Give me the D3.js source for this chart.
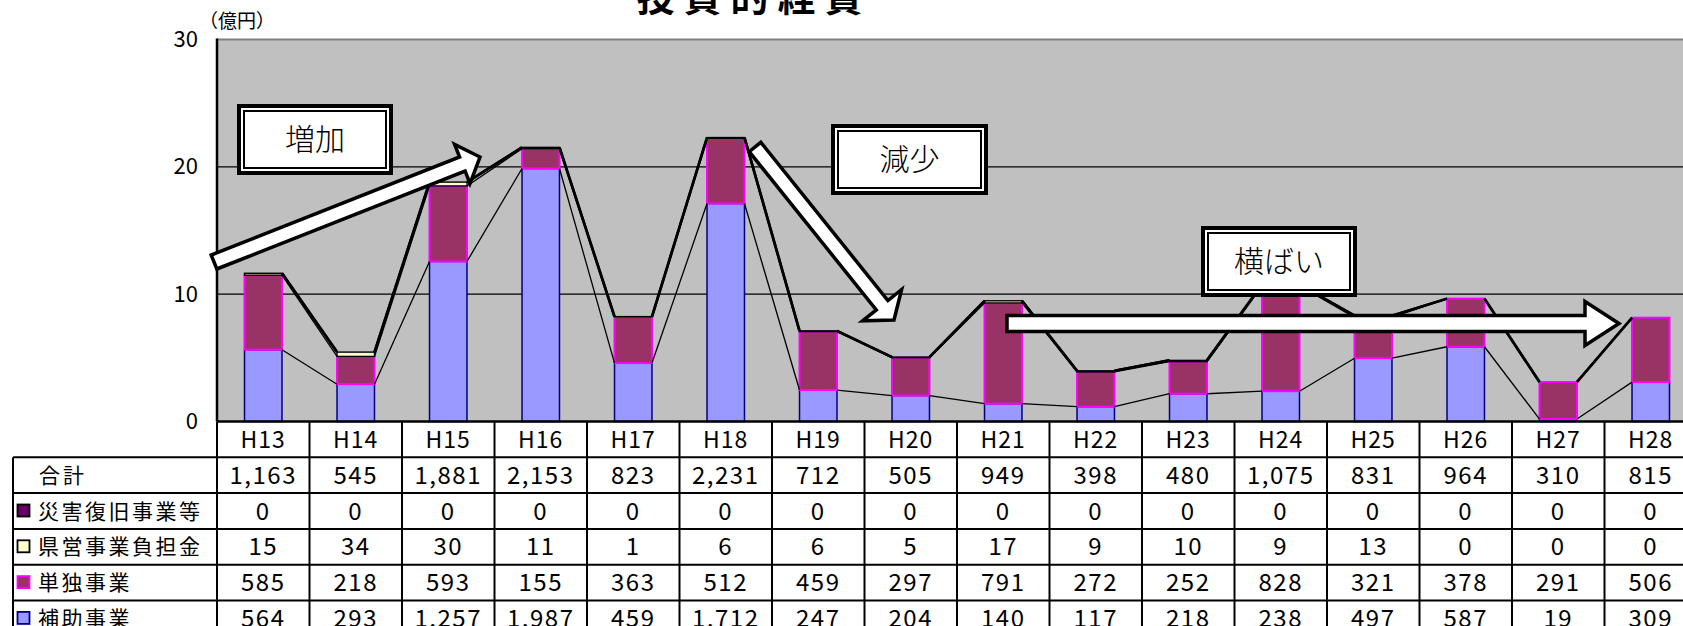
<!DOCTYPE html>
<html>
<head>
<meta charset="utf-8">
<script src="https://cdn.jsdelivr.net/npm/d3@7"></script>
<style>
  html, body { margin: 0; padding: 0; background: #fff; overflow: hidden; }
  svg { display: block; }
  text { font-family: "Noto Sans CJK JP", "Noto Sans", sans-serif; }
</style>
</head>
<body>
<svg id="chart" width="1683" height="626"></svg>
<script>
// ---------------- data (百万円) ----------------
const categories = ["H13","H14","H15","H16","H17","H18","H19","H20","H21","H22","H23","H24","H25","H26","H27","H28"];
const totalValues   = [1163, 545, 1881, 2153, 823, 2231, 712, 505, 949, 398, 480, 1075, 831, 964, 310, 815];
const saigaiValues  = [0, 0, 0, 0, 0, 0, 0, 0, 0, 0, 0, 0, 0, 0, 0, 0];
const keneiValues   = [15, 34, 30, 11, 1, 6, 6, 5, 17, 9, 10, 9, 13, 0, 0, 0];
const tandokuValues = [585, 218, 593, 155, 363, 512, 459, 297, 791, 272, 252, 828, 321, 378, 291, 506];
const hojoValues    = [564, 293, 1257, 1987, 459, 1712, 247, 204, 140, 117, 218, 238, 497, 587, 19, 309];
const yTickValues = [0, 10, 20, 30];
const yUnitLabel = "（億円）";
const titleText = "投資的経費";
const seriesNames = ["補助事業", "単独事業", "県営事業負担金", "災害復旧事業等"];
const tableRowNames = ["合計", "災害復旧事業等", "県営事業負担金", "単独事業", "補助事業"];
const annotationTexts = ["増加", "減少", "横ばい"];

// ---------------- layout ----------------
const svg = d3.select("#chart");
const plotLeft = 217, step = 92.5;
const plotRight = plotLeft + step * categories.length;
const plotTop = 39.5, plotBottom = 421.5;
const rowH = 35.8;
const tableLeft = 13;

const x = d3.scaleBand().domain(categories).range([plotLeft, plotRight]).padding(0);
const y = d3.scaleLinear().domain([0, 30]).range([plotBottom, plotTop]);
const barW = x.bandwidth() * 0.405;

const styles = {
  "補助事業":      { fill: "#9999FF", stroke: "#000080", sw: 1.5 },
  "単独事業":      { fill: "#993366", stroke: "#FF00FF", sw: 2 },
  "県営事業負担金": { fill: "#FFFFCC", stroke: "#000000", sw: 1.4 },
  "災害復旧事業等": { fill: "#660066", stroke: "#000000", sw: 1.4 }
};

// build rows (億円)
const rows = categories.map((c, i) => ({
  cat: c,
  "補助事業": hojoValues[i] / 100,
  "単独事業": tandokuValues[i] / 100,
  "県営事業負担金": keneiValues[i] / 100,
  "災害復旧事業等": saigaiValues[i] / 100
}));
const stacked = d3.stack().keys(seriesNames)(rows);

// plot background
svg.append("rect").attr("x", plotLeft).attr("y", plotTop)
  .attr("width", plotRight - plotLeft).attr("height", plotBottom - plotTop)
  .attr("fill", "#C0C0C0");

// gridlines
svg.append("g").selectAll("line").data(yTickValues.filter(v => v > 0 && v < 30)).join("line")
  .attr("x1", plotLeft).attr("x2", plotRight)
  .attr("y1", d => y(d)).attr("y2", d => y(d))
  .attr("stroke", "#000").attr("stroke-width", 1.2);

// top border
svg.append("line").attr("x1", plotLeft).attr("x2", plotRight)
  .attr("y1", plotTop).attr("y2", plotTop).attr("stroke", "#808080").attr("stroke-width", 2);

// bars
stacked.forEach(layer => {
  const st = styles[layer.key];
  svg.append("g").selectAll("rect").data(layer).join("rect")
    .attr("x", d => x(d.data.cat) + x.bandwidth() / 2 - barW / 2)
    .attr("y", d => y(d[1]))
    .attr("width", barW)
    .attr("height", d => Math.max(0, y(d[0]) - y(d[1])))
    .attr("fill", st.fill)
    .attr("stroke", st.stroke)
    .attr("stroke-width", st.sw);
});

// series lines
stacked.forEach((layer, li) => {
  const isTop = li >= 2;
  const segs = d3.pairs(layer);
  svg.append("g").selectAll("line").data(segs).join("line")
    .attr("x1", d => x(d[0].data.cat) + x.bandwidth() / 2 + barW / 2)
    .attr("y1", d => y(d[0][1]))
    .attr("x2", d => x(d[1].data.cat) + x.bandwidth() / 2 - barW / 2)
    .attr("y2", d => y(d[1][1]))
    .attr("stroke", "#000")
    .attr("stroke-width", isTop ? 2.6 : 1.3);
});

// left axis line
svg.append("line").attr("x1", plotLeft).attr("x2", plotLeft)
  .attr("y1", plotTop - 1).attr("y2", plotBottom).attr("stroke", "#000").attr("stroke-width", 2.5);

// y tick labels
const yAxis = d3.axisLeft(y).tickValues(yTickValues).tickSize(0).tickPadding(19);
const gy = svg.append("g").attr("transform", `translate(${plotLeft},0)`).call(yAxis);
gy.select(".domain").remove();
gy.selectAll("text").attr("font-size", 22).attr("fill", "#000")
  .style("font-family", '"Noto Sans CJK JP", sans-serif');

svg.append("text").attr("x", 199).attr("y", 28).attr("font-size", 19)
  .text(yUnitLabel);

// title
svg.append("text").attr("x", 754).attr("y", 11).attr("text-anchor", "middle")
  .attr("font-size", 38).attr("font-weight", "bold").attr("letter-spacing", 9)
  .text(titleText);

// ---------------- data table ----------------
const tbl = svg.append("g");
const nRows = tableRowNames.length;
const tableBottom = plotBottom + rowH * (nRows + 1);
// header labels
tbl.selectAll("text.cat").data(categories).join("text").attr("class", "cat")
  .attr("x", d => x(d) + x.bandwidth() / 2)
  .attr("y", plotBottom + rowH / 2)
  .attr("dy", "0.36em")
  .attr("text-anchor", "middle").attr("font-size", 23).attr("letter-spacing", 1)
  .text(d => d);

const tableData = [totalValues, saigaiValues, keneiValues, tandokuValues, hojoValues];
const fmt = d3.format(",");
tableData.forEach((vals, r) => {
  const cy = plotBottom + rowH * (r + 1) + rowH / 2;
  tbl.append("g").selectAll("text").data(vals).join("text")
    .attr("x", (d, i) => x(categories[i]) + x.bandwidth() / 2)
    .attr("y", cy).attr("dy", "0.36em")
    .attr("text-anchor", "middle").attr("font-size", 24).attr("letter-spacing", 1.5)
    .text(d => fmt(d));
  const name = tableRowNames[r];
  if (r === 0) {
    tbl.append("text").attr("x", 39).attr("y", cy).attr("dy", "0.36em")
      .attr("font-size", 21).attr("letter-spacing", 3).text(name);
  } else {
    const st = styles[name];
    tbl.append("rect").attr("x", 17.5).attr("y", cy - 6.5).attr("width", 12).attr("height", 12)
      .attr("fill", st.fill).attr("stroke", name === "単独事業" ? "#FF00FF" : (name === "補助事業" ? "#000080" : "#000"))
      .attr("stroke-width", 1.8);
    tbl.append("text").attr("x", 38).attr("y", cy).attr("dy", "0.36em")
      .attr("font-size", 21).attr("letter-spacing", 2.5).text(name);
  }
});

// table grid lines
tbl.append("line").attr("x1", plotLeft).attr("x2", plotRight)
  .attr("y1", plotBottom).attr("y2", plotBottom).attr("stroke", "#000").attr("stroke-width", 2.5);
d3.range(1, nRows + 1).forEach(k => {
  tbl.append("line").attr("x1", tableLeft).attr("x2", plotRight)
    .attr("y1", plotBottom + rowH * k).attr("y2", plotBottom + rowH * k)
    .attr("stroke", "#000").attr("stroke-width", 2);
});
tbl.append("line").attr("x1", tableLeft).attr("x2", tableLeft)
  .attr("y1", plotBottom + rowH).attr("y2", tableBottom).attr("stroke", "#000").attr("stroke-width", 2);
tbl.selectAll("line.v").data(categories.concat(["end"])).join("line").attr("class", "v")
  .attr("x1", (d, i) => plotLeft + i * x.step()).attr("x2", (d, i) => plotLeft + i * x.step())
  .attr("y1", plotBottom).attr("y2", tableBottom)
  .attr("stroke", "#000").attr("stroke-width", 2);

// ---------------- annotations ----------------
function blockArrow(T, P, s, h, L) {
  const dx = P[0] - T[0], dy = P[1] - T[1];
  const len = Math.hypot(dx, dy);
  const ux = dx / len, uy = dy / len;
  const nx = -uy, ny = ux;
  const B = [P[0] - ux * L, P[1] - uy * L];
  const pts = [
    [T[0] + nx * s, T[1] + ny * s],
    [B[0] + nx * s, B[1] + ny * s],
    [B[0] + nx * h, B[1] + ny * h],
    P,
    [B[0] - nx * h, B[1] - ny * h],
    [B[0] - nx * s, B[1] - ny * s],
    [T[0] - nx * s, T[1] - ny * s]
  ];
  return "M" + pts.map(p => p[0].toFixed(1) + "," + p[1].toFixed(1)).join("L") + "Z";
}
const ann = svg.append("g");
const arrows = [
  { T: [214, 262], P: [480, 157], s: 7.5, h: 21, L: 19 },
  { T: [755, 147], P: [894, 320], s: 7.5, h: 25, L: 19 },
  { T: [1007, 323.5], P: [1619, 323.5], s: 8, h: 22, L: 34 }
];
arrows.forEach(a => {
  ann.append("path").attr("d", blockArrow(a.T, a.P, a.s, a.h, a.L))
    .attr("fill", "#fff").attr("stroke", "#000").attr("stroke-width", 3.5)
    .attr("stroke-linejoin", "miter").attr("stroke-miterlimit", 10);
});

const boxes = [
  { x0: 237, y0: 104, w: 156, h: 71 },
  { x0: 831, y0: 124, w: 157, h: 71 },
  { x0: 1201, y0: 226, w: 156, h: 71 }
];
boxes.forEach((b, i) => {
  ann.append("rect").attr("x", b.x0 + 2).attr("y", b.y0 + 2).attr("width", b.w - 4).attr("height", b.h - 4)
    .attr("fill", "#fff").attr("stroke", "#000").attr("stroke-width", 4);
  ann.append("rect").attr("x", b.x0 + 7).attr("y", b.y0 + 7).attr("width", b.w - 14).attr("height", b.h - 14)
    .attr("fill", "none").attr("stroke", "#000").attr("stroke-width", 2);
  ann.append("text").attr("x", b.x0 + b.w / 2).attr("y", b.y0 + b.h / 2).attr("dy", "0.36em")
    .attr("text-anchor", "middle").attr("font-size", 30).attr("font-weight", 300)
    .text(annotationTexts[i]);
});
</script>
</body>
</html>
